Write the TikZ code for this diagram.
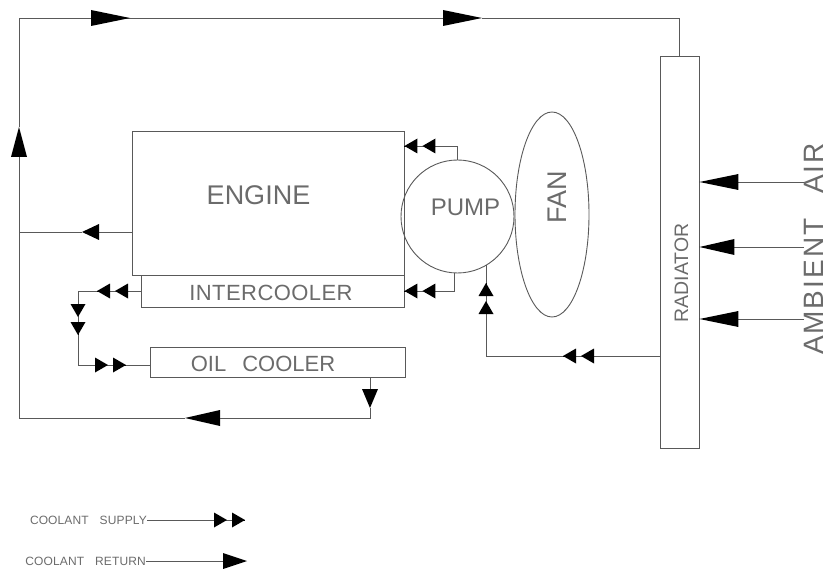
\documentclass[tikz,border=0pt]{standalone}
\usepackage{fontspec}
\newfontfamily\cadfont{Liberation Sans}
\usetikzlibrary{arrows.meta,shapes.geometric}
\definecolor{lineclr}{gray}{0.35}
\definecolor{textclr}{gray}{0.42}
\tikzset{
    wire/.style = {draw = lineclr, line width = 0.9pt},
    part/.style = {wire, rectangle, inner sep = 0pt},
    cadlabel/.style 2 args = {inner sep = 0pt, text = textclr, font = \cadfont\fontsize{#1}{#1}\selectfont\addfontfeature{LetterSpace=#2}},
    supply/.style = {wire, preaction = {draw, -}, -{Triangle[length = 13pt, width = 15pt, sep = 5pt, color = black, fill = black, line width = 0pt] Triangle[length = 13pt, width = 15pt, color = black, fill = black, line width = 0pt]}},
    return/.style = {wire, -{Triangle[length = #1, width = 16pt, color = black, fill = black, line width = 0pt]}},
    return/.default = 39pt,
}
\begin{document}
\begin{tikzpicture}[x = 1pt, y = -1pt]
            \useasboundingbox(0,0)rectangle(829,569);
            % parts
            \node[part, minimum width = 272pt, minimum height = 144pt](engine)at(268,203){};
            \node[part, minimum width = 263pt, minimum height = 32pt](intercooler)at(272.5,291){};
            \node[part, minimum width = 255pt, minimum height = 30pt](oilcooler)at(277.5,362){};
            \node[part, circle, minimum size = 113pt](pump)at(457.5,216.5){};
            \node[part, ellipse, minimum width = 74pt, minimum height = 205pt](fan)at(552,214.5){};
            \node[part, minimum width = 39pt, minimum height = 392pt](radiator)at(679.5,252){};
            % labels
            \node[cadlabel = {27}{0}](enginetxt)at(258.5,195){ENGINE};
            \node[cadlabel = {22}{2}](intercoolertxt)at(271,293){INTERCOOLER};
            \node[cadlabel = {22}{0}](oilcoolertxt)at(263,364){OIL\hspace{16pt}COOLER};
            \node[cadlabel = {24}{0}](pumptxt)at(465.5,207){PUMP};
            \node[cadlabel = {27}{0}, rotate = 90](fantxt)at(557.5,197.5){FAN};
            \node[cadlabel = {19.5}{0}, rotate = 90](radiatortxt)at(681.5,273){RADIATOR};
            \node[cadlabel = {28}{7}, rotate = 90, anchor = base](ambienttxt)at(823.5,249){AMBIENT\hspace{25pt}AIR};
            % return loop
            \coordinate(t1a)at(679,18);
            \coordinate(t1b)at(443,18);
            \coordinate(t2a)at(482,18);
            \coordinate(t2b)at(91,18);
            \coordinate(t3a)at(130,18);
            \coordinate(t3b)at(19,18);
            \coordinate(l1a)at(19,157);
            \coordinate(l1b)at(19,127);
            \coordinate(b1a)at(370,418);
            \coordinate(b1b)at(220,418);
            \coordinate(b2a)at(185,418);
            \coordinate(b2b)at(19,418);
            \coordinate(d1)at(370,408);
            \path[draw, wire](radiator.north -| t1a)to(t1a)to(t2a);
            \path[draw, return](t1b)to(t2a);
            \path[draw, wire](t1b)to(t2b);
            \path[draw, return](t2b)to(t3a);
            \path[draw, wire](t2b)to(t3b)to(l1b);
            \path[draw, return = 30pt](l1a)to(l1b);
            \path[draw, wire](l1a)to(b2b)to(b2a);
            \path[draw, return = 35pt](b1b)to(b2a);
            \path[draw, wire](b1b)to(b1a)to(d1);
            \path[draw, return = 19pt](oilcooler.south -| d1)to(d1);
            % engine outlet
            \coordinate(e1)at(82,232);
            \coordinate(e2)at(19,232);
            \path[draw, return = 17pt](engine.west |- e1)to(e1);
            \path[draw, wire](e1)to(e2);
            % pump to engine and intercooler
            \path[draw, supply](pump.north)|-(engine.east |- 0,146);
            \coordinate(p1)at(454,273);
            \path[draw, supply](p1)|-(intercooler.east);
            % radiator to pump
            \coordinate(r1)at(563,356);
            \coordinate(r2)at(486,356);
            \coordinate(r3)at(486,283);
            \coordinate(r4)at(486,265);
            \path[draw, supply](radiator.west |- r1)to(r1);
            \path[draw, wire](r1)to(r2);
            \path[draw, supply](r2)to(r3);
            \path[draw, wire](r3)to(r4);
            % intercooler to oil cooler
            \coordinate(i1)at(97,291);
            \coordinate(i2)at(78,291);
            \coordinate(i3)at(78,335);
            \coordinate(i4)at(78,365);
            \coordinate(i5)at(97,365);
            \coordinate(i6)at(126,365);
            \path[draw, supply](intercooler.west)to(i1);
            \path[draw, wire](i1)to(i2);
            \path[draw, supply](i2)to(i3);
            \path[draw, wire](i3)to(i4)to(i5);
            \path[draw, supply](i5)to(i6);
            \path[draw, wire](i6)to(oilcooler.west |- i6);
            % ambient air
            \foreach \name/\y/\len in {a1/182/39pt, a2/247/35pt, a3/319/39pt}{
                \coordinate(\name)at(804,\y);
                \path[draw, return = \len](\name)to(radiator.east |- \name);
            }
            % legend
            \node[cadlabel = {12}{1}, anchor = east](supplytxt)at(147,520){COOLANT\hspace{11pt}SUPPLY};
            \node[cadlabel = {12}{1}, anchor = east](returntxt)at(146,561){COOLANT\hspace{11pt}RETURN};
            \coordinate(s1)at(245,520);
            \coordinate(s2)at(247,561);
            \path[draw, supply](supplytxt.east)to(s1);
            \path[draw, return = 24pt](returntxt.east)to(s2);
        \end{tikzpicture}
\end{document}
